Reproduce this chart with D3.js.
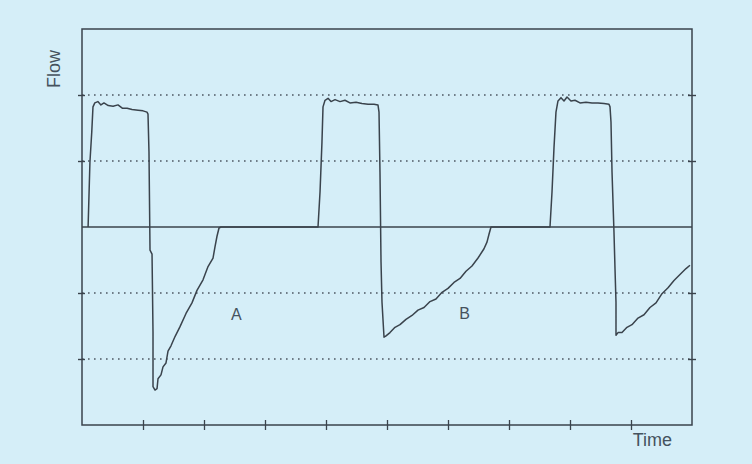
<!DOCTYPE html>
<html>
<head>
<meta charset="utf-8">
<script src="https://cdn.jsdelivr.net/npm/d3@7"></script>
<style>
  html, body { margin: 0; padding: 0; background: #d5eef8; }
  svg { display: block; }
</style>
</head>
<body>
<svg id="chart" width="752" height="464"></svg>
<script>
// ---- data ----
const timeTicks = [1, 2, 3, 4, 5, 6, 7, 8, 9];
const flowGrid = [-2, -1, 1, 2];
const xLabel = "Time";
const yLabel = "Flow";
const annotations = [
  { label: "A", t: 2.53, f: -1.33 },
  { label: "B", t: 6.27, f: -1.31 }
];

const time = [
  0.10, 0.13, 0.16, 0.18, 0.21, 0.26, 0.31, 0.36, 0.43, 0.51, 0.59, 0.66, 0.74, 0.82, 0.92, 1.00, 1.066, 1.082,
  1.098, 1.115, 1.148, 1.164, 1.164, 1.197, 1.230, 1.246, 1.295, 1.328, 1.377, 1.410, 1.459, 1.525, 1.607, 1.705,
  1.803, 1.885, 1.984, 2.066, 2.148, 2.180, 2.213, 2.246, 2.279,
  3.869, 3.902, 3.934, 3.951, 3.984, 4.033, 4.082, 4.148, 4.230, 4.311, 4.393, 4.492, 4.590, 4.689, 4.787, 4.852,
  4.869, 4.885, 4.902, 4.918, 4.951, 4.984, 5.049, 5.131, 5.213, 5.311, 5.410, 5.508, 5.607, 5.705, 5.803, 5.902,
  6.000, 6.098, 6.197, 6.295, 6.393, 6.492, 6.590, 6.639, 6.672, 6.705,
  7.672, 7.705, 7.738, 7.770, 7.803, 7.852, 7.902, 7.951, 8.016, 8.082, 8.164, 8.262, 8.361, 8.459, 8.557, 8.639,
  8.656, 8.672, 8.689, 8.721, 8.738, 8.754, 8.754, 8.787, 8.852, 8.934, 9.016, 9.115, 9.213, 9.311, 9.410, 9.508,
  9.607, 9.705, 9.803, 9.902, 9.967
];
const flow = [
  0.00, 0.98, 1.44, 1.82, 1.88, 1.90, 1.85, 1.88, 1.84, 1.83, 1.85, 1.80, 1.80, 1.78, 1.77, 1.76, 1.74, 1.71,
  1.14, -0.35, -0.41, -1.59, -2.42, -2.47, -2.45, -2.30, -2.24, -2.12, -2.06, -1.88, -1.80, -1.66, -1.51, -1.31,
  -1.15, -0.96, -0.80, -0.60, -0.47, -0.30, -0.14, -0.015, 0.00,
  0.00, 0.53, 1.29, 1.82, 1.92, 1.95, 1.90, 1.93, 1.90, 1.92, 1.88, 1.89, 1.87, 1.86, 1.86, 1.85,
  1.74, 0.83, -0.53, -1.14, -1.67, -1.65, -1.60, -1.52, -1.48, -1.40, -1.34, -1.26, -1.22, -1.13, -1.09, -0.99,
  -0.93, -0.84, -0.78, -0.67, -0.59, -0.47, -0.33, -0.23, -0.11, 0.00,
  0.00, 0.53, 1.21, 1.74, 1.91, 1.96, 1.91, 1.97, 1.91, 1.92, 1.88, 1.89, 1.88, 1.88, 1.87, 1.86,
  1.82, 1.59, 0.83, -0.08, -0.64, -1.14, -1.64, -1.60, -1.60, -1.52, -1.48, -1.38, -1.33, -1.22, -1.15, -1.01,
  -0.92, -0.81, -0.72, -0.63, -0.58
];

// ---- layout ----
const svg = d3.select("#chart");
const mLeft = 82, mRight = 692, mTop = 29, mBottom = 425;
const x = d3.scaleLinear().domain([0, 10]).range([mLeft, mRight]);
const y = d3.scaleLinear().domain([-3, 3]).range([mBottom, mTop]);
const ink = "#3a434c";
const textInk = "#45525e";

// dotted grid
svg.append("g").selectAll("line").data(flowGrid).join("line")
  .attr("x1", mLeft).attr("x2", mRight)
  .attr("y1", d => y(d)).attr("y2", d => y(d))
  .attr("stroke", "#4d5863").attr("stroke-width", 1.4)
  .attr("stroke-dasharray", "1.6,4.4");

// zero line
svg.append("line")
  .attr("x1", mLeft).attr("x2", mRight)
  .attr("y1", y(0)).attr("y2", y(0))
  .attr("stroke", ink).attr("stroke-width", 1.5);

// frame
svg.append("rect")
  .attr("x", mLeft).attr("y", mTop)
  .attr("width", mRight - mLeft).attr("height", mBottom - mTop)
  .attr("fill", "none").attr("stroke", ink).attr("stroke-width", 1.5);

// bottom axis ticks (crossing)
const gx = svg.append("g").attr("transform", `translate(0,${mBottom})`)
  .call(d3.axisBottom(x).tickValues(timeTicks).tickFormat("").tickSizeOuter(0).tickSize(5));
gx.select(".domain").remove();
gx.selectAll(".tick line").attr("y1", -5).attr("y2", 5).attr("stroke", ink).attr("stroke-width", 1.3);

// left axis ticks
const gy = svg.append("g").attr("transform", `translate(${mLeft},0)`)
  .call(d3.axisLeft(y).tickValues(flowGrid).tickFormat("").tickSizeOuter(0).tickSize(4));
gy.select(".domain").remove();
gy.selectAll(".tick line").attr("x1", -4).attr("x2", 3).attr("stroke", ink).attr("stroke-width", 1.4);

// right axis ticks
const gr = svg.append("g").attr("transform", `translate(${mRight},0)`)
  .call(d3.axisRight(y).tickValues(flowGrid).tickFormat("").tickSizeOuter(0).tickSize(4));
gr.select(".domain").remove();
gr.selectAll(".tick line").attr("x1", -4).attr("x2", 4).attr("stroke", ink).attr("stroke-width", 1.4);

// flow trace
const pts = time.map((t, i) => [t, flow[i]]);
svg.append("path")
  .datum(pts)
  .attr("fill", "none")
  .attr("stroke", ink)
  .attr("stroke-width", 1.5)
  .attr("stroke-linejoin", "round")
  .attr("d", d3.line().x(d => x(d[0])).y(d => y(d[1])));

// labels
svg.append("text")
  .attr("transform", `translate(60,69) rotate(-90)`)
  .attr("text-anchor", "middle")
  .attr("font-family", "Liberation Sans, Arial, sans-serif")
  .attr("font-size", 18)
  .attr("fill", textInk)
  .text(yLabel);

svg.append("text")
  .attr("x", x(9.35)).attr("y", 446)
  .attr("text-anchor", "middle")
  .attr("font-family", "Liberation Sans, Arial, sans-serif")
  .attr("font-size", 18)
  .attr("fill", textInk)
  .text(xLabel);

svg.append("g").selectAll("text").data(annotations).join("text")
  .attr("x", d => x(d.t)).attr("y", d => y(d.f))
  .attr("text-anchor", "middle")
  .attr("dominant-baseline", "central")
  .attr("font-family", "Liberation Sans, Arial, sans-serif")
  .attr("font-size", 16)
  .attr("fill", textInk)
  .text(d => d.label);
</script>
</body>
</html>
